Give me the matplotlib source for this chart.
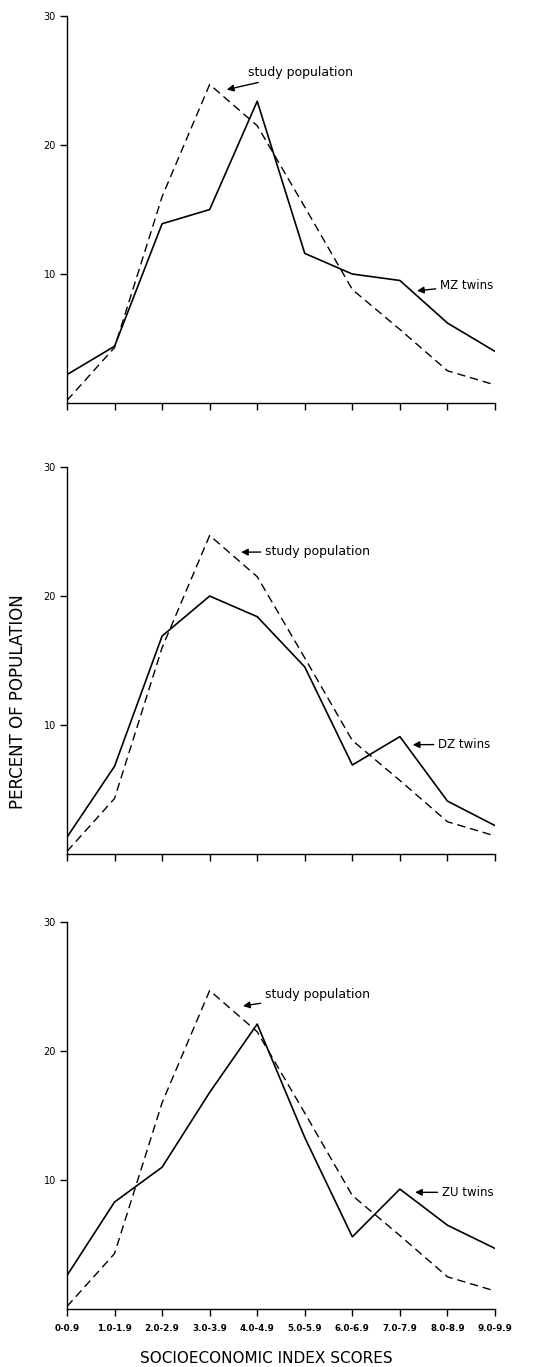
import matplotlib
matplotlib.use('Agg')
import matplotlib.pyplot as plt

# socioeconomic index score classes
score_bins = ['0-0.9', '1.0-1.9', '2.0-2.9', '3.0-3.9', '4.0-4.9',
              '5.0-5.9', '6.0-6.9', '7.0-7.9', '8.0-8.9', '9.0-9.9']

# percent of population per class
study_population = [0.2, 4.3, 16.0, 24.7, 21.5, 15.2, 8.8, 5.7, 2.5, 1.4]
mz_twins = [2.2, 4.4, 13.9, 15.0, 23.4, 11.6, 10.0, 9.5, 6.2, 4.0]
dz_twins = [1.3, 6.8, 16.9, 20.0, 18.4, 14.5, 6.9, 9.1, 4.1, 2.2]
zu_twins = [2.6, 8.3, 11.0, 16.8, 22.1, 13.3, 5.6, 9.3, 6.5, 4.7]

twin_series = [mz_twins, dz_twins, zu_twins]
twin_labels = ['MZ twins', 'DZ twins', 'ZU twins']
y_ticks = [10, 20, 30]

# label anchors: (arrow head, text start) in data units
study_notes = [((3.36, 24.3), (3.80, 25.6)),
               ((3.66, 23.4), (4.16, 23.45)),
               ((3.70, 23.5), (4.16, 24.4))]
twin_notes = [((7.36, 8.7), (7.84, 9.1)),
              ((7.27, 8.47), (7.80, 8.5)),
              ((7.32, 9.05), (7.88, 9.05))]

fig = plt.figure(figsize=(5.55, 13.67), dpi=100)
bottoms = [0.7052, 0.3753, 0.0424]
x = list(range(len(score_bins)))

for i, b in enumerate(bottoms):
    ax = fig.add_axes([0.1207, b, 0.7712, 0.2830])
    ax.plot(x, study_population, color='black', lw=1.0, dashes=(6, 3.5))
    ax.plot(x, twin_series[i], color='black', lw=1.2)
    ax.set_xlim(0, 9)
    ax.set_ylim(0, 30)
    for s in ['top', 'right']:
        ax.spines[s].set_visible(False)
    ax.spines['left'].set_linewidth(1.0)
    ax.spines['bottom'].set_linewidth(1.0)
    ax.set_yticks(y_ticks)
    ax.set_yticklabels([str(t) for t in y_ticks], fontsize=7)
    ax.set_xticks(x)
    if i == 2:
        ax.set_xticklabels(score_bins, fontsize=6.3, fontweight='bold')
    else:
        ax.set_xticklabels([])
    ax.tick_params(direction='out', length=5, width=1.0, pad=3)
    ax.tick_params(axis='x', pad=6)

    arrow = dict(arrowstyle='-|>', color='black', lw=1.0, mutation_scale=10,
                 shrinkA=1, shrinkB=0)
    head, txt = study_notes[i]
    ax.annotate('study population', xy=head, xytext=txt, fontsize=9,
                ha='left', va='center', arrowprops=arrow)
    head, txt = twin_notes[i]
    ax.annotate(twin_labels[i], xy=head, xytext=txt, fontsize=8.5,
                ha='left', va='center', arrowprops=arrow)

fig.text(0.033, 0.487, 'PERCENT OF POPULATION', rotation=90, fontsize=12,
         ha='center', va='center')
fig.text(0.479, 0.0059, 'SOCIOECONOMIC INDEX SCORES', fontsize=11,
         ha='center', va='center')

fig.savefig('out.png', dpi=100)
